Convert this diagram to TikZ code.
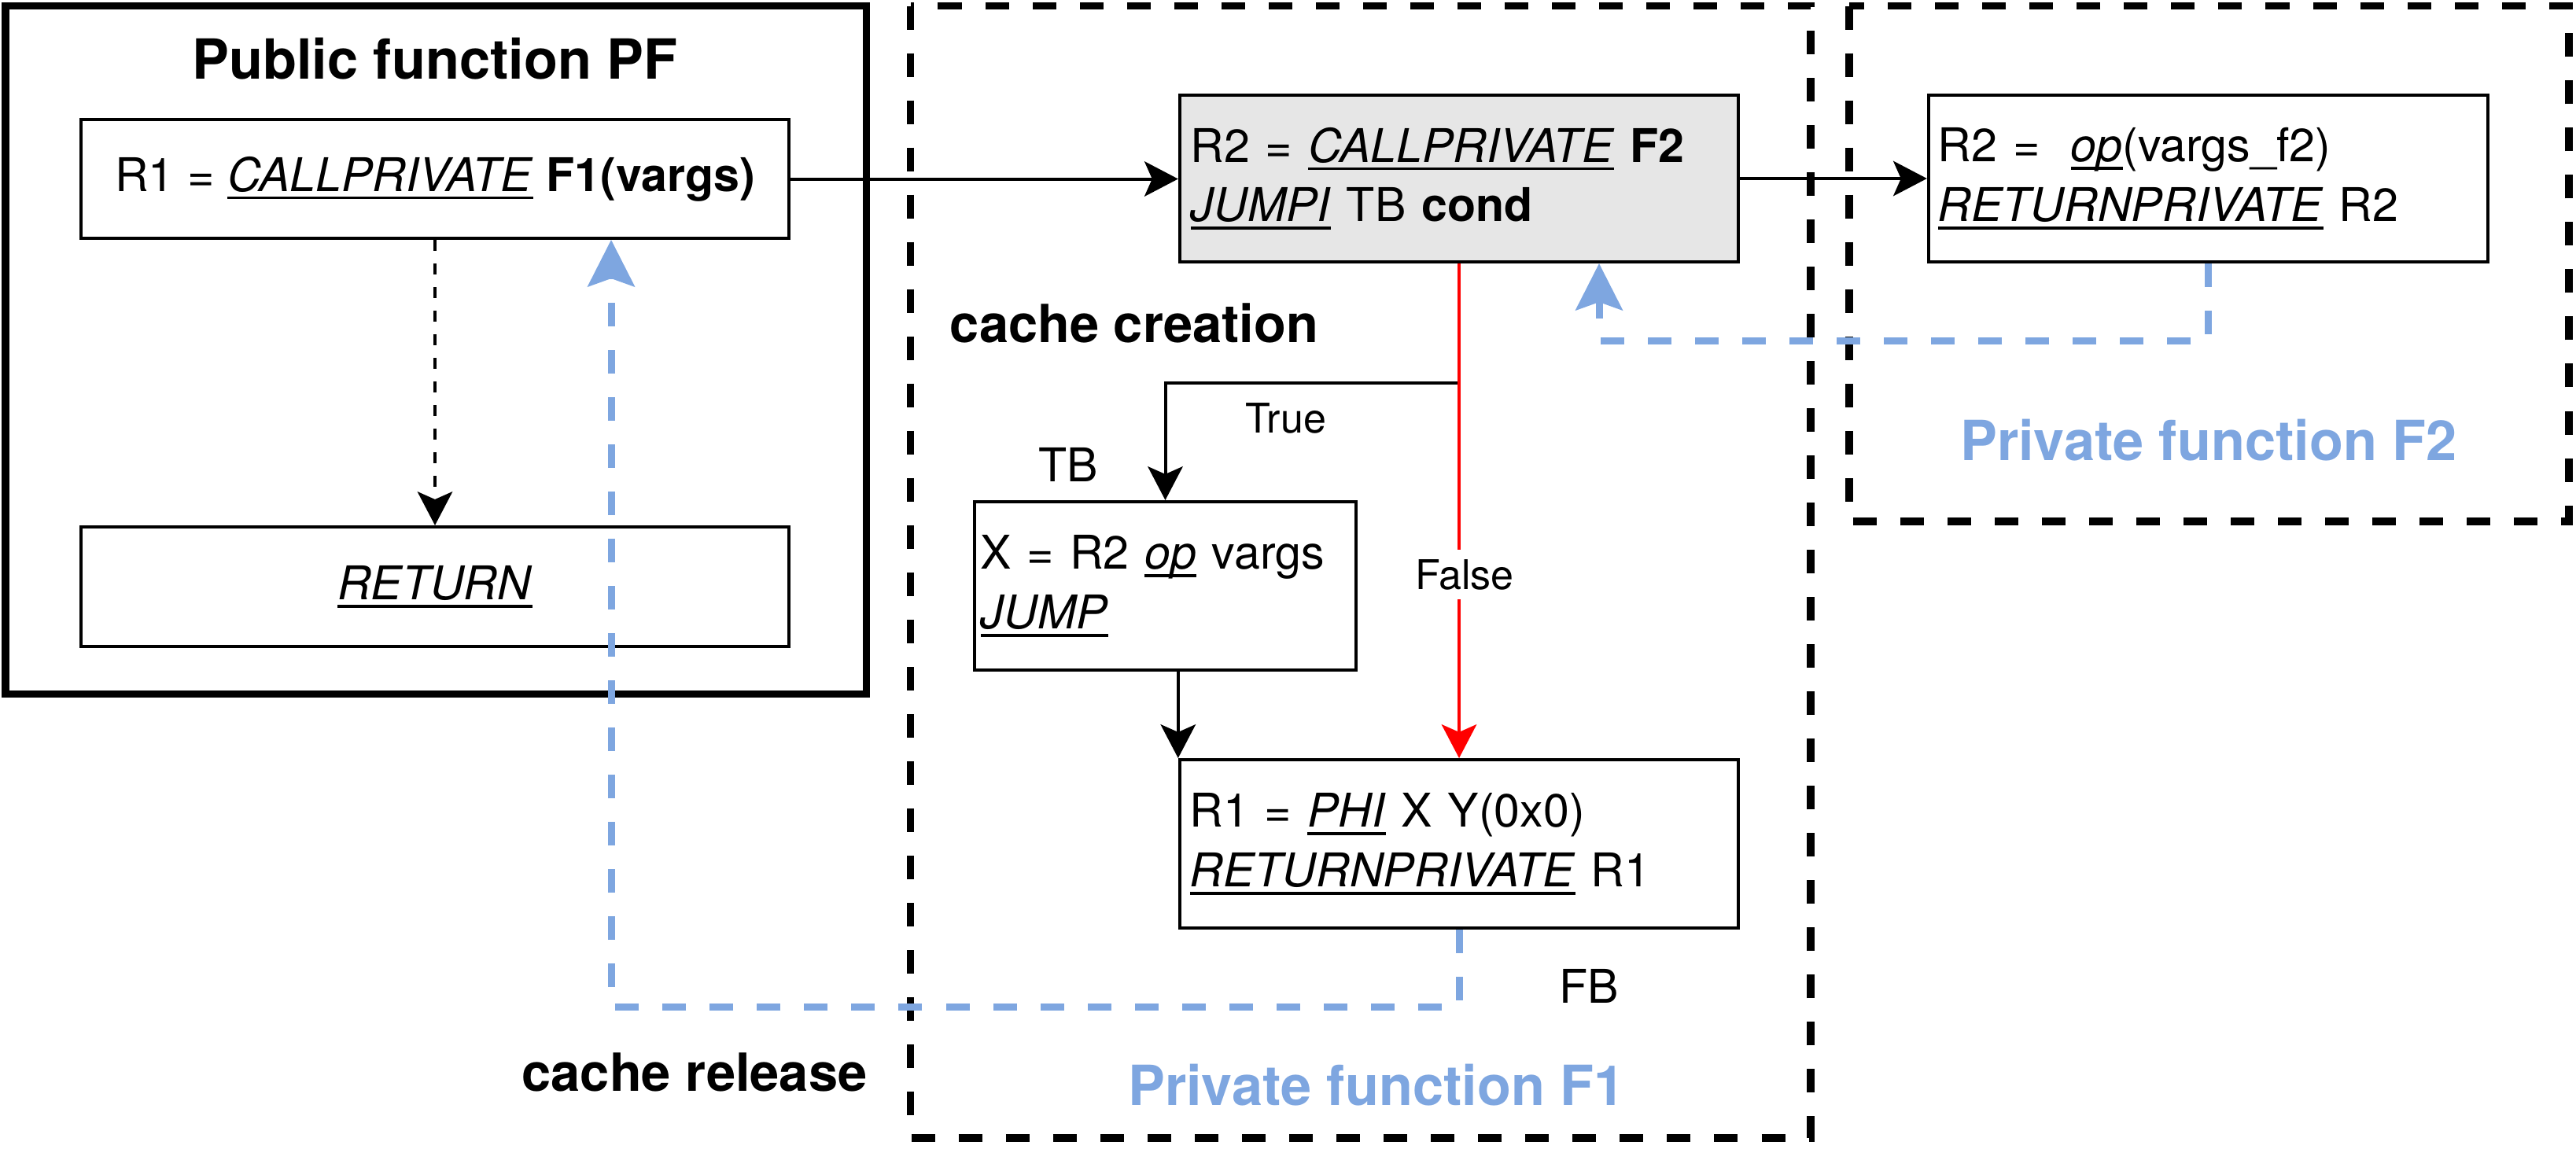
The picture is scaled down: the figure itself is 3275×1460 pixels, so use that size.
\documentclass[tikz,border=0pt]{standalone}
\usepackage{fontspec}
\setmainfont{TeX Gyre Heros}
\usetikzlibrary{arrows.meta,calc}
\definecolor{pfblue}{HTML}{7EA6E0}
\definecolor{boxgrey}{HTML}{E6E6E6}
\newcommand\uln[1]{\leavevmode\setbox0\hbox{#1}\rlap{\rule[-0.175em]{\wd0}{0.065em}}\box0\relax}
\begin{document}
\begin{tikzpicture}[x=0.01cm,y=-0.01cm,
  txt/.style={font=\fontsize{16.8}{21.5}\selectfont},
  cbox/.style={draw, line width=0.04cm, inner sep=0pt, txt},
  lbox/.style={cbox, align=left, inner ysep=0pt},
  blab/.style={font=\fontsize{19}{23}\selectfont\bfseries, anchor=base, inner sep=0pt},
  tlab/.style={font=\fontsize{20}{24}\selectfont\bfseries, anchor=base, inner sep=0pt},
  rlab/.style={txt, anchor=base, inner sep=0pt},
  slab/.style={font=\fontsize{14.8}{18}\selectfont, anchor=base, inner sep=0pt},
  arr/.style={-{Stealth[length=0.43cm,width=0.45cm,inset=0.1cm,line width=0pt]}, line width=0.04cm},
  barr/.style={-{Stealth[length=0.6cm,width=0.61cm,inset=0.11cm,line width=0pt]}, line width=0.09cm, pfblue, dash pattern=on 0.3cm off 0.3cm},
  frame/.style={line width=0.095cm, dash pattern=on 0.3cm off 0.3cm}
]
\useasboundingbox (0,0) rectangle (3275,1460);

% containers
\draw[line width=0.09cm] (7,7) rectangle (1101,882);
\draw[frame] (1157.5,7.5) rectangle (2302,1447);
\draw[frame] (2351,7.5) rectangle (3266,663);

% titles and labels
\node[tlab] (pft) at (553,100) {Public function PF};
\node[blab] (cc) at (1442,435) {cache creation};
\node[blab] (cr) at (883,1387) {cache release};
\node[tlab, text=pfblue] (pf1) at (1750,1405) {Private function F1};
\node[tlab, text=pfblue] (pf2) at (2808,585) {Private function F2};
\node[rlab] (tbl) at (1358,612) {TB};
\node[rlab] (fbl) at (2020,1275) {FB};
\node[slab] (tru) at (1635,550) {True};

% boxes
\node[cbox, minimum width=9cm, minimum height=1.51cm] (R1) at (553,227.5)
  {R1 = \uln{\textit{CALLPRIVATE}} \textbf{F1(vargs)}};
\node[cbox, minimum width=9cm, minimum height=1.52cm] (RET) at (553,746)
  {\uln{\textit{RETURN}}};
\node[lbox, fill=boxgrey, minimum width=7.1cm, minimum height=2.12cm, text width=6.82cm, inner xsep=0.14cm] (G) at (1855,227)
  {R2 = \uln{\textit{CALLPRIVATE}} \textbf{F2}\\ \uln{\textit{JUMPI}} TB \textbf{cond}};
\node[lbox, minimum width=7.11cm, minimum height=2.12cm, text width=6.87cm, inner xsep=0.12cm] (F2) at (2807.5,227)
  {R2 =\ \ \uln{\textit{op}}(vargs\_f2)\\ \uln{\textit{RETURNPRIVATE}} R2};
\node[lbox, minimum width=4.85cm, minimum height=2.14cm, text width=4.69cm, inner xsep=0.08cm] (T) at (1481.5,745)
  {X = R2 \uln{\textit{op}} vargs\\ \uln{\textit{JUMP}}};
\node[lbox, minimum width=7.1cm, minimum height=2.14cm, text width=6.84cm, inner xsep=0.13cm] (P) at (1855,1073)
  {R1 = \uln{\textit{PHI}} X Y(0x0)\\ \uln{\textit{RETURNPRIVATE}} R1};

% connectors
\draw[arr] (R1.east) -- (R1.east -| G.west);
\draw[arr] (G.east) -- (F2.west);
\draw[arr, dash pattern=on 0.14cm off 0.16cm] (R1.south) -- (RET.north);
\coordinate (br) at (1855,487);
\draw[arr] (G.south) -- (br) -| (T.north);
\draw[arr] (T.south -| P.west) -- (P.north west);
\draw[arr, red] (G.south) -- (P.north);
\node[slab, fill=white, inner xsep=2pt, inner ysep=0.12cm] (fal) at (1862,749) {False};

\coordinate (b1) at (777,1280);
\draw[barr] (P.south) |- (b1) -- (b1 |- R1.south);
\coordinate (b2) at (2033,433);
\draw[barr] (F2.south) |- (b2) -- (b2 |- G.south);
\end{tikzpicture}
\end{document}
